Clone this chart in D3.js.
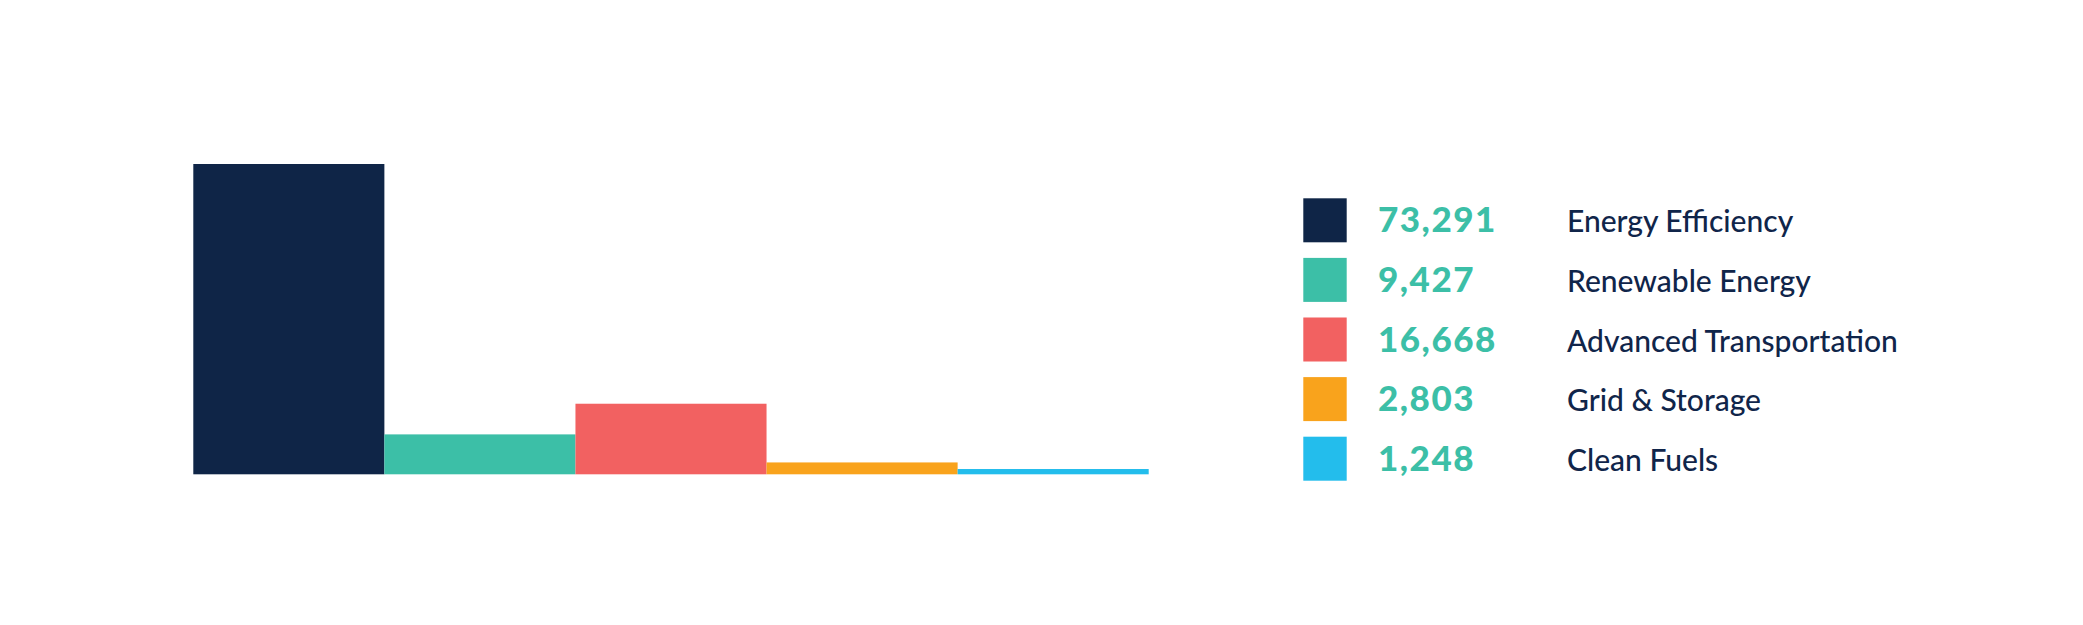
<!DOCTYPE html>
<html>
<head>
<meta charset="utf-8">
<script src="https://cdn.jsdelivr.net/npm/d3@7"></script>
<style>
  html, body { margin: 0; padding: 0; background: #ffffff; }
  svg { display: block; }
</style>
</head>
<body>
<svg id="chart" width="2083" height="625"></svg>
<script>
// ---- data ----
const categories = ["Energy Efficiency", "Renewable Energy", "Advanced Transportation", "Grid & Storage", "Clean Fuels"];
const values = [73291, 9427, 16668, 2803, 1248];
const valueLabels = ["73,291", "9,427", "16,668", "2,803", "1,248"];
const colors = ["#0f2547", "#3cbfa7", "#f26161", "#f9a31c", "#23bdec"];

const svg = d3.select("#chart");

// bars
const x = d3.scaleBand().domain(categories).range([193.3, 1148.7]).paddingInner(0).paddingOuter(0);
const y = d3.scaleLinear().domain([0, 73291]).range([474.3, 164]);

svg.append("g").selectAll("rect")
  .data(categories)
  .join("rect")
  .attr("x", d => x(d))
  .attr("width", x.bandwidth())
  .attr("y", (d, i) => y(values[i]))
  .attr("height", (d, i) => y(0) - y(values[i]))
  .attr("fill", (d, i) => colors[i]);

// legend
const ly = d3.scaleBand().domain(categories).range([198.3, 198.3 + 59.6 * 5]).paddingInner(0);
const leg = svg.append("g").selectAll("g")
  .data(categories)
  .join("g")
  .attr("transform", d => `translate(0,${ly(d)})`);

leg.append("rect")
  .attr("x", 1303.3)
  .attr("width", 43.4)
  .attr("height", 44)
  .attr("fill", (d, i) => colors[i]);

leg.append("text")
  .attr("x", 1378)
  .attr("y", 34)
  .attr("fill", "#3cbfa7")
  .style("font-family", "Lato, 'Open Sans', sans-serif")
  .style("font-weight", 900)
  .style("font-size", "35px")
  .style("letter-spacing", "1.5px")
  .text((d, i) => valueLabels[i]);

leg.append("text")
  .attr("x", 1567)
  .attr("y", 34)
  .attr("fill", "#10254a")
  .style("font-family", "Lato, 'Open Sans', sans-serif")
  .style("font-weight", 500)
  .style("font-size", "30px")
  .text(d => d);
</script>
</body>
</html>
